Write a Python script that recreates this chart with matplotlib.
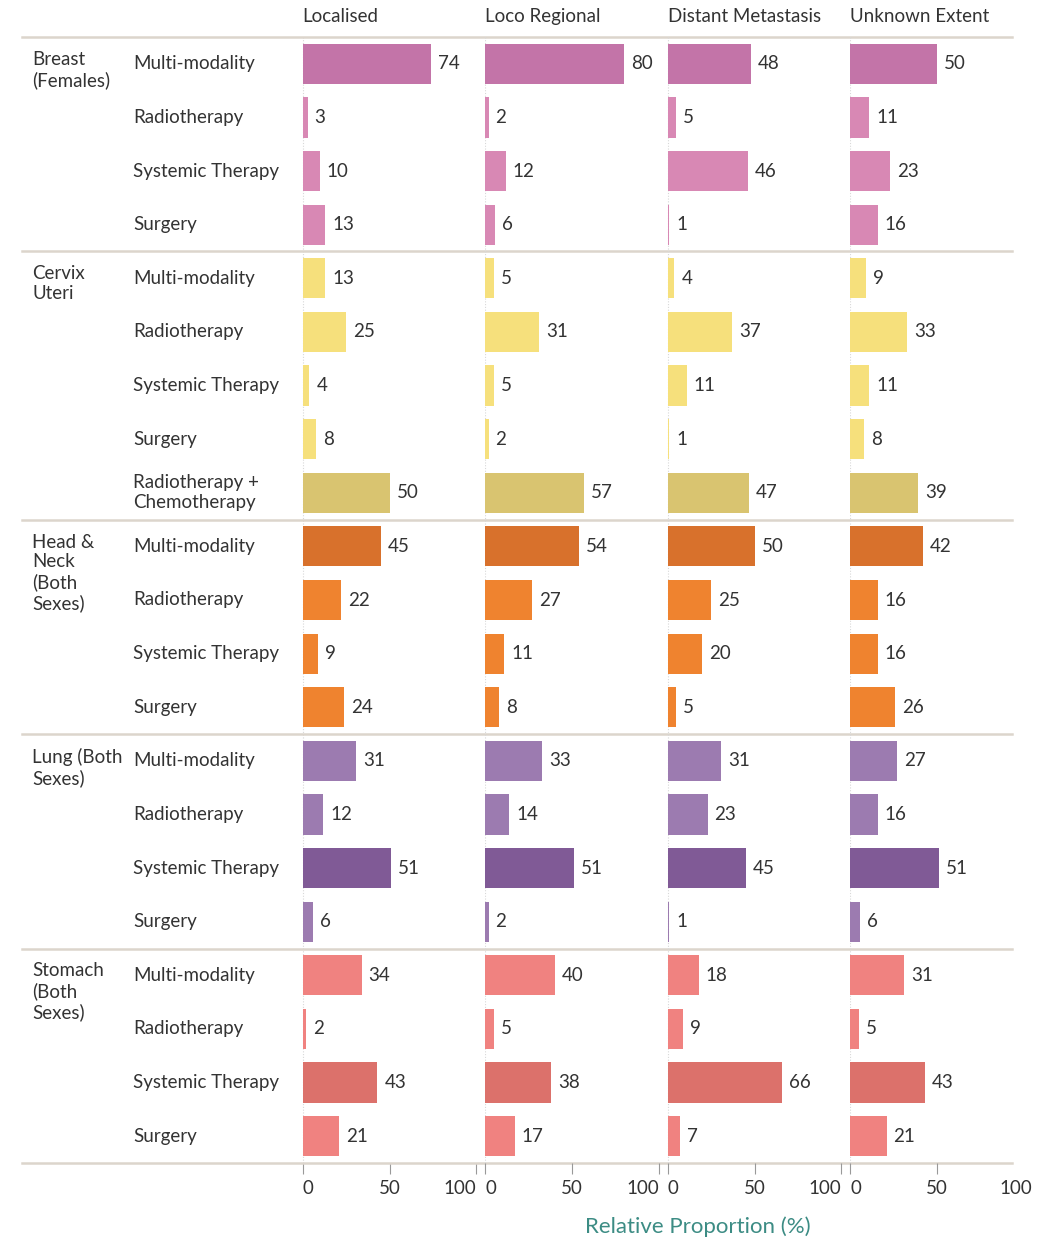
import matplotlib.pyplot as plt
import matplotlib.transforms as mtransforms

plt.rcParams['font.family'] = ['Lato', 'DejaVu Sans']

stages = ["Localised", "Loco Regional", "Distant Metastasis", "Unknown Extent"]

groups = ["Breast\n(Females)", "Cervix\nUteri", "Head &\nNeck\n(Both\nSexes)",
          "Lung (Both\nSexes)", "Stomach\n(Both\nSexes)"]

treatments = [
    ["Multi-modality", "Radiotherapy", "Systemic Therapy", "Surgery"],
    ["Multi-modality", "Radiotherapy", "Systemic Therapy", "Surgery",
     "Radiotherapy +\nChemotherapy"],
    ["Multi-modality", "Radiotherapy", "Systemic Therapy", "Surgery"],
    ["Multi-modality", "Radiotherapy", "Systemic Therapy", "Surgery"],
    ["Multi-modality", "Radiotherapy", "Systemic Therapy", "Surgery"],
]

# values per treatment row: Localised, Loco Regional, Distant Metastasis, Unknown Extent
breast = [[74, 80, 48, 50], [3, 2, 5, 11], [10, 12, 46, 23], [13, 6, 1, 16]]
cervix = [[13, 5, 4, 9], [25, 31, 37, 33], [4, 5, 11, 11], [8, 2, 1, 8], [50, 57, 47, 39]]
head_neck = [[45, 54, 50, 42], [22, 27, 25, 16], [9, 11, 20, 16], [24, 8, 5, 26]]
lung = [[31, 33, 31, 27], [12, 14, 23, 16], [51, 51, 45, 51], [6, 2, 1, 6]]
stomach = [[34, 40, 18, 31], [2, 5, 9, 5], [43, 38, 66, 43], [21, 17, 7, 21]]
values = [breast, cervix, head_neck, lung, stomach]

# highlighted treatment in each group gets the darker shade
highlight = [0, 4, 0, 2, 2]
light_cols = ["#d888b4", "#f6e07c", "#ef832f", "#9c7bb0", "#f08280"]
dark_cols = ["#c374a8", "#d9c470", "#d8712c", "#805a96", "#dc716b"]

W, H = 1051, 1241
fig = plt.figure(figsize=(W / 100, H / 100), dpi=100)

top_px, bot_px = 37, 1163
panel_left = 302
panel_w = 182.5
axes = []
for i in range(4):
    ax = fig.add_axes([(panel_left + i * panel_w) / W, 1 - bot_px / H,
                       panel_w / W, (bot_px - top_px) / H])
    ax.patch.set_visible(False)
    axes.append(ax)

n_rows = sum(len(t) for t in treatments)
txt = "#333333"
fs = 13.5

for j, ax in enumerate(axes):
    row = 0
    for g in range(len(groups)):
        for k in range(len(treatments[g])):
            v = values[g][k][j]
            c = dark_cols[g] if k == highlight[g] else light_cols[g]
            ax.barh(row, v, height=0.75, color=c, zorder=2)
            ax.annotate(str(v), (v, row), xytext=(5, 0), textcoords="offset points",
                        va="center", ha="left", fontsize=fs, color=txt)
            row += 1
    ax.set_ylim(n_rows - 0.5, -0.5)
    ax.set_xlim(-0.3, 104.6)
    ax.axvline(0, color="#d8d8d8", lw=0.8, ls=(0, (1, 1.5)), zorder=1)
    for s in ax.spines.values():
        s.set_visible(False)
    ax.set_yticks([])
    ax.set_xticks([0, 50, 100])
    ax.tick_params(axis="x", length=8, width=0.8, color="#999999",
                   labelsize=fs, labelcolor=txt, pad=4)
    labs = ax.get_xticklabels()
    labs[0].set_ha("left")
    if j < 3:
        labs[2].set_ha("right")
    else:
        # last panel: the separator stops before 100, so no tick mark there
        ax.xaxis.get_major_ticks()[2].tick1line.set_visible(False)
        labs[2].set_transform(labs[2].get_transform() +
                              mtransforms.ScaledTranslation(-6 / 72, 0, fig.dpi_scale_trans))
    ax.text(0, -0.88, stages[j], ha="left", va="center", fontsize=fs, color=txt)

# row and group labels, separators across the full width
ax0 = axes[0]
blend = mtransforms.blended_transform_factory(fig.transFigure, ax0.transData)
sep_col = "#dcd5cc"
ax0.plot([22 / W, 1012 / W], [-0.5, -0.5], transform=blend, color=sep_col,
         lw=1.8, clip_on=False)
row = 0
for g in range(len(groups)):
    ax0.text(32 / W, row - 0.24, groups[g], transform=blend, ha="left", va="top",
             fontsize=fs, color=txt, linespacing=1.2)
    for k in range(len(treatments[g])):
        ax0.text(133 / W, row, treatments[g][k], transform=blend, ha="left",
                 va="center", fontsize=fs, color=txt, linespacing=1.2)
        row += 1
    ax0.plot([22 / W, 1012 / W], [row - 0.5, row - 0.5], transform=blend,
             color=sep_col, lw=1.8, clip_on=False)

fig.text(698 / W, 1 - 1227 / H, "Relative Proportion (%)", ha="center", va="center",
         fontsize=16, color="#3c8c84")

fig.savefig("out.png", dpi=100, facecolor="white")
